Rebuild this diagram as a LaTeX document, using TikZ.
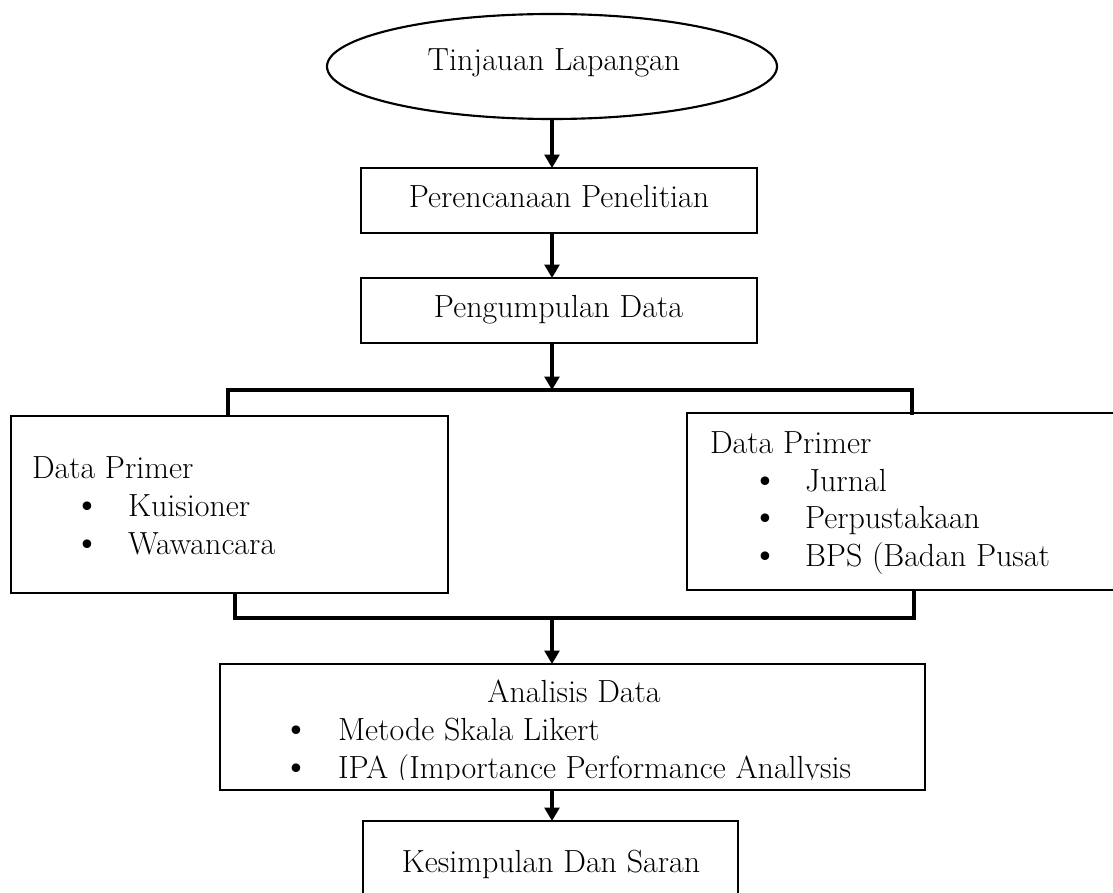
\documentclass[tikz,border=0pt]{standalone}
\usetikzlibrary{shapes.geometric,arrows.meta}
\newcommand{\bul}{\smash{\fontsize{29pt}{29pt}\selectfont\textbullet}}
\begin{document}
\begin{tikzpicture}[x=0.75pt,y=-0.75pt,
  box/.style={draw,line width=1.6pt,inner sep=0pt,outer sep=0pt},
  oval/.style={draw,ellipse,line width=1.6pt,inner sep=0pt,outer sep=0pt},
  txt/.style={inner sep=0pt,outer sep=0pt,font=\fontsize{24pt}{30pt}\selectfont},
  arr/.style={line width=2.4pt,-{Triangle[length=10pt,width=11pt]}},
  bar/.style={line width=2.4pt,line join=miter}]
\useasboundingbox (0,0) rectangle (1113,892);
% shapes
\node[oval,minimum width=450*0.75pt,minimum height=105*0.75pt] (ell) at (552,66.5) {};
\node[box,minimum width=396*0.75pt,minimum height=65*0.75pt] (p1) at (559,200.5) {};
\node[box,minimum width=396*0.75pt,minimum height=65*0.75pt] (p2) at (559,310.5) {};
\node[box,minimum width=437.3*0.75pt,minimum height=177*0.75pt] (dl) at (229.3,504.5) {};
\node[box,minimum width=443*0.75pt,minimum height=177*0.75pt] (dr) at (908.5,501.5) {};
\node[box,minimum width=705*0.75pt,minimum height=126*0.75pt] (an) at (572.5,727) {};
\node[box,minimum width=375*0.75pt,minimum height=84*0.75pt] (ks) at (550.5,863) {};
% texts
\node[txt,anchor=base] (tt) at (554,70) {Tinjauan Lapangan};
\node[txt,anchor=base] (tp1) at (559,207) {Perencanaan Penelitian};
\node[txt,anchor=base] (tp2) at (558.5,317) {Pengumpulan Data};
\node[txt,anchor=base west] (tl0) at (32,478) {Data Primer};
\node[txt,anchor=base] (bl1) at (87,516) {\bul};
\node[txt,anchor=base west] (tl1) at (128,516) {Kuisioner};
\node[txt,anchor=base] (bl2) at (87,554) {\bul};
\node[txt,anchor=base west] (tl2) at (128,554) {Wawancara};
\node[txt,anchor=base west] (tr0) at (710,453) {Data Primer};
\node[txt,anchor=base] (br1) at (765,491) {\bul};
\node[txt,anchor=base west] (tr1) at (805,491) {Jurnal};
\node[txt,anchor=base] (br2) at (765,528) {\bul};
\node[txt,anchor=base west] (tr2) at (805,528) {Perpustakaan};
\node[txt,anchor=base] (br3) at (765,566) {\bul};
\node[txt,anchor=base west] (tr3) at (805,566) {BPS (Badan Pusat};
\begin{scope}
\clip (222,666) rectangle (923,779);
\node[txt,anchor=base] (ta0) at (574,702) {Analisis Data};
\node[txt,anchor=base] (ba1) at (296,740) {\bul};
\node[txt,anchor=base west] (ta1) at (338,740) {Metode Skala Likert};
\node[txt,anchor=base] (ba2) at (296,778) {\bul};
\node[txt,anchor=base west] (ta2) at (338,778) {IPA (Importance Performance Anallysis};
\end{scope}
\node[txt,anchor=base] (tk) at (551,872) {Kesimpulan Dan Saran};
% connectors
\coordinate (bt) at (552,390);
\coordinate (cl) at (228,390);
\coordinate (cr) at (912,390);
\coordinate (bm) at (552,618);
\coordinate (dll) at (235,618);
\coordinate (drr) at (914,618);
\draw[arr] (ell.south) -- (ell.south |- p1.north);
\draw[arr] (ell.south |- p1.south) -- (ell.south |- p2.north);
\draw[arr] (ell.south |- p2.south) -- (bt);
\draw[bar] (cl |- dl.north) -- (cl) -- (cr) -- ([yshift=-1.5pt]cr |- dr.north);
\draw[bar] (dll |- dl.south) -- (dll) -- (drr) -- (drr |- dr.south);
\draw[arr] (bm) -- (bm |- an.north);
\draw[arr] (bm |- an.south) -- (bm |- ks.north);
\end{tikzpicture}
\end{document}
